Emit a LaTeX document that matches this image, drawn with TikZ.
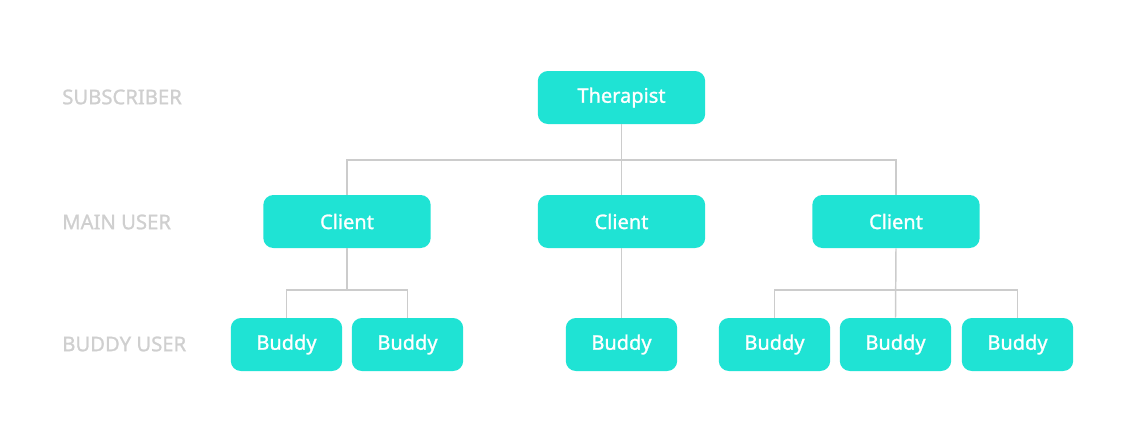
\documentclass[tikz,border=0pt]{standalone}
\usepackage{fontspec}
\setmainfont{Noto Sans}
\newfontfamily\boxfont[FakeBold=1.2]{Noto Sans}
\usepackage{tikz}
\definecolor{boxcyan}{HTML}{1FE3D4}
\definecolor{linegray}{HTML}{CCCCCC}
\definecolor{labelgray}{HTML}{CFCFCF}

\begin{document}
\begin{tikzpicture}[x=0.75pt, y=-0.75pt,
  role/.style={rectangle, rounded corners=7.5pt, fill=boxcyan, text=white, minimum height=39.75pt, font=\boxfont\fontsize{15}{18}\selectfont},
  wide/.style={role, minimum width=125.5pt},
  small/.style={role, minimum width=83.5pt},
  level/.style={anchor=west, text=labelgray, inner sep=0pt, font=\boxfont\fontsize{15.2}{18}\selectfont},
  link/.style={draw=linegray, line width=1.1pt}]
\useasboundingbox (0,0) rectangle (1140,440);
\node[level] (subscriber) at (62,97) {SUBSCRIBER};
\node[level] (mainuser) at (62,222) {MAIN USER};
\node[level] (buddyuser) at (62,344) {BUDDY USER};
\node[wide] (therapist) at (621.5,97.5) {Therapist};
\node[wide] (client1) at (347,221.5) {Client};
\node[wide] (client2) at (621.5,221.5) {Client};
\node[wide] (client3) at (896,221.5) {Client};
\node[small] (buddy1) at (286.5,344.5) {Buddy};
\node[small] (buddy2) at (407.5,344.5) {Buddy};
\node[small] (buddy3) at (621.5,344.5) {Buddy};
\node[small] (buddy4) at (774.5,344.5) {Buddy};
\node[small] (buddy5) at (895.5,344.5) {Buddy};
\node[small] (buddy6) at (1017.5,344.5) {Buddy};
\coordinate (top) at (621.5,160);
\coordinate (left) at (347,290);
\coordinate (right) at (896,290);
\draw[link] (therapist.south) -- (client2.north);
\draw[link] (client1.north) |- (top) -| (client3.north);
\draw[link] (client1.south) -- (left);
\draw[link] (buddy1.north) |- (left) -| (buddy2.north);
\draw[link] (client2.south) -- (buddy3.north);
\draw[link] (client3.south) -- (buddy5.north);
\draw[link] (buddy4.north) |- (right) -| (buddy6.north);
\end{tikzpicture}
\end{document}
